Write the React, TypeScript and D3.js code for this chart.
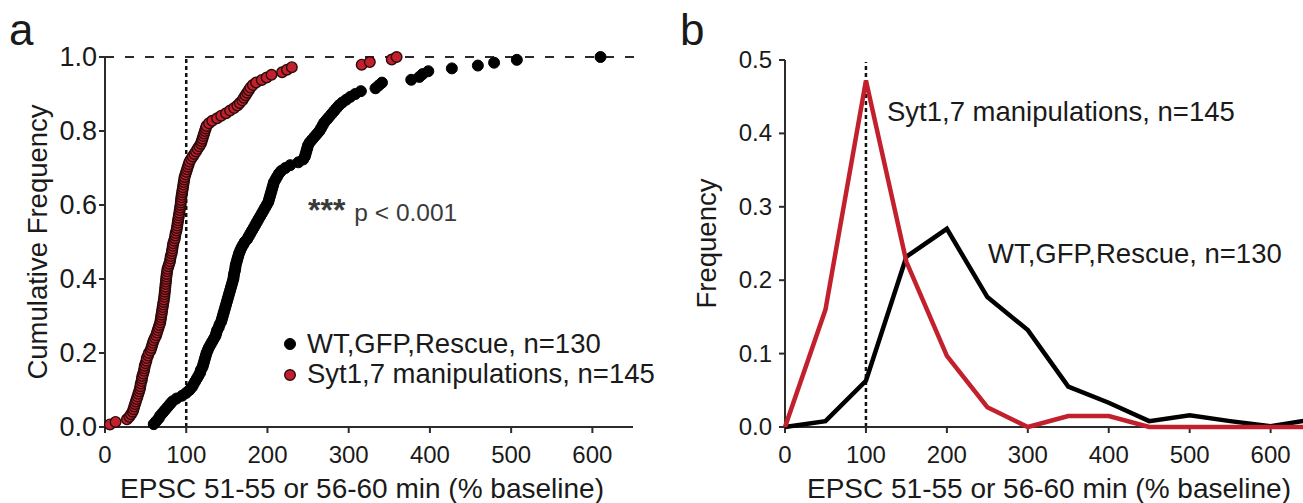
import React from 'react';
import * as d3 from 'd3';

// ---- Panel a: cumulative distributions (sorted values, % baseline) ----
const wtValues = [
  60, 63, 66, 68, 71, 74, 77, 80, 83, 88,
  95, 100, 104, 107, 109, 111, 113, 115, 117, 118,
  120, 121, 122, 123, 124, 125, 126.5, 128, 130, 132,
  134, 136, 137, 138, 140, 141, 143, 144, 145, 146,
  147, 148, 149, 150, 151, 152, 153, 154, 155, 156,
  157, 158, 158.5, 159, 160, 160.5, 161, 162, 163, 164,
  165, 166.5, 168, 170, 172, 175, 177, 179, 181, 183,
  185, 187, 189, 191, 193, 195, 197, 199, 201, 202,
  203, 204, 205, 206, 207, 208, 210, 212, 214, 217,
  222, 228, 238, 244, 246, 247, 248, 249, 250, 252,
  255, 258, 261, 264, 266, 268, 270, 273, 276, 279,
  282, 285, 288, 292, 297, 302, 308, 315, 333, 337,
  341, 377, 387, 391, 398, 427, 459, 479, 507, 610,
];

const sytValues = [
  6, 13, 27, 30, 32, 34, 35, 36, 37, 38,
  39, 40, 41, 42, 43, 43.5, 44, 45, 45.5, 46,
  47, 48, 48.5, 49, 50, 51, 51.5, 53, 54, 56,
  57, 58, 59, 60, 61.5, 63, 64, 65, 66, 67,
  68, 68.5, 69, 69.5, 70, 70.5, 71, 71.5, 72, 72.5,
  73, 73.3, 73.6, 74, 74.3, 74.6, 75, 75.3, 75.6, 76,
  76.5, 77, 78, 79, 80, 80.5, 81, 82, 82.5, 83,
  83.5, 84, 85, 86, 86.5, 87, 88, 88.5, 89, 89.5,
  90, 90.5, 91, 91.5, 92, 92.5, 93, 93.3, 93.6, 94,
  94.5, 95, 95.5, 96, 96.5, 97, 97.5, 98, 99, 100,
  101, 102, 103, 104, 106, 108, 110, 112, 114, 116,
  118, 119, 120, 121, 122, 123, 124, 125, 128, 132,
  138, 143, 149, 154, 159, 163, 166, 169, 171, 173,
  175, 177, 179, 182, 186, 193, 199, 205, 218, 224,
  230, 316, 326, 353, 359,
];

const cdfXTicks = [0, 100, 200, 300, 400, 500, 600];
const cdfYTicks = [0, 0.2, 0.4, 0.6, 0.8, 1.0];

// ---- Panel b: frequency histograms ----
const histBins = [0, 50, 100, 150, 200, 250, 300, 350, 400, 450, 500, 550, 600, 650];
const wtFreq = [0, 0.008, 0.063, 0.232, 0.27, 0.177, 0.132, 0.055, 0.033, 0.008, 0.016, 0.008, 0.001, 0.01];
const sytFreq = [0, 0.16, 0.472, 0.225, 0.097, 0.027, 0, 0.015, 0.015, 0, 0, 0, 0, 0];

const histXTicks = [0, 100, 200, 300, 400, 500, 600];
const histYTicks = [0, 0.1, 0.2, 0.3, 0.4, 0.5];

const labelWT = 'WT,GFP,Rescue, n=130';
const labelSyt = 'Syt1,7 manipulations, n=145';
const xTitle = 'EPSC 51-55 or 56-60 min (% baseline)';

const FONT = '"Liberation Sans", Arial, Helvetica, sans-serif';
const RED = '#c3202e';
const AX = '#2b2b2b';
const TXT = '#1a1a1a';

export default function App() {
  // panel a scales
  const xa = d3.scaleLinear().domain([0, 650]).range([105, 633]);
  const ya = d3.scaleLinear().domain([0, 1]).range([427, 57]);
  // panel b scales
  const xb = d3.scaleLinear().domain([0, 640]).range([785, 1303]);
  const yb = d3.scaleLinear().domain([0, 0.5]).range([427, 60]);

  const wtPts = wtValues.map((v, i) => [xa(v), ya((i + 1) / wtValues.length)]);
  const sytPts = sytValues.map((v, i) => [xa(v), ya((i + 1) / sytValues.length)]);

  const line = d3
    .line<number>()
    .x((_, i) => xb(histBins[i]))
    .y((d) => yb(d));

  return (
    <svg
      width={1303}
      height={503}
      style={{ position: 'absolute', left: 0, top: 0, background: '#fff' }}
      fontFamily={FONT}
    >
      <rect x={0} y={0} width={1303} height={503} fill="#fff" />

      {/* ================= Panel a ================= */}
      <text x={9} y={45} fontSize={44} fill={TXT}>a</text>

      {/* reference lines */}
      <line x1={xa(0)} x2={640} y1={ya(1)} y2={ya(1)} stroke={AX} strokeWidth={2} strokeDasharray="9 11" />
      <line x1={xa(100)} x2={xa(100)} y1={ya(0)} y2={ya(1)} stroke="#111" strokeWidth={2.5} strokeDasharray="4 3" />

      {/* axes */}
      <line x1={xa(0)} x2={xa(650)} y1={ya(0)} y2={ya(0)} stroke={AX} strokeWidth={2} />
      <line x1={xa(0)} x2={xa(0)} y1={ya(0) + 1} y2={ya(1)} stroke={AX} strokeWidth={2} />
      {cdfXTicks.map((t) => (
        <g key={'ax' + t}>
          <line x1={xa(t)} x2={xa(t)} y1={ya(0)} y2={ya(0) + 6} stroke={AX} strokeWidth={2} />
          <text x={xa(t)} y={463} fontSize={24} textAnchor="middle" fill={TXT}>{t}</text>
        </g>
      ))}
      {cdfYTicks.map((t) => (
        <g key={'ay' + t}>
          <line x1={xa(0) - 6} x2={xa(0)} y1={ya(t)} y2={ya(t)} stroke={AX} strokeWidth={2} />
          <text x={97} y={ya(t) + 9} fontSize={27} textAnchor="end" fill={TXT}>{t.toFixed(1)}</text>
        </g>
      ))}
      <text
        transform={`translate(47, ${(ya(0) + ya(1)) / 2}) rotate(-90)`}
        fontSize={27.5}
        textAnchor="middle"
        fill={TXT}
      >
        Cumulative Frequency
      </text>
      <text x={362} y={498} fontSize={28} textAnchor="middle" fill={TXT}>{xTitle}</text>

      {/* data points */}
      {wtPts.map((p, i) => (
        <circle key={'w' + i} cx={p[0]} cy={p[1]} r={5.5} fill="#000" stroke="#000" strokeWidth={1} />
      ))}
      {sytPts.map((p, i) => (
        <circle key={'s' + i} cx={p[0]} cy={p[1]} r={5.3} fill={RED} stroke="#2a0a0a" strokeWidth={1.4} />
      ))}

      {/* p-value */}
      <text x={308} y={221} fill="#3a3a3a">
        <tspan fontSize={32} fontWeight="bold">***</tspan>
        <tspan fontSize={24.5} dx={9}>p &lt; 0.001</tspan>
      </text>

      {/* legend */}
      <circle cx={290} cy={344} r={5.5} fill="#000" stroke="#000" strokeWidth={1} />
      <text x={307} y={353} fontSize={27.5} fill={TXT}>{labelWT}</text>
      <circle cx={290} cy={375} r={5.3} fill={RED} stroke="#2a0a0a" strokeWidth={1.4} />
      <text x={307} y={383} fontSize={27.5} fill={TXT}>{labelSyt}</text>

      {/* ================= Panel b ================= */}
      <text x={680} y={45} fontSize={44} fill={TXT}>b</text>

      <line x1={xb(100)} x2={xb(100)} y1={yb(0)} y2={yb(0.5) + 2} stroke="#111" strokeWidth={2.5} strokeDasharray="4 3" />

      <line x1={xb(0)} x2={1303} y1={yb(0)} y2={yb(0)} stroke={AX} strokeWidth={2} />
      <line x1={xb(0)} x2={xb(0)} y1={yb(0) + 1} y2={yb(0.5)} stroke={AX} strokeWidth={2} />
      {histXTicks.map((t) => (
        <g key={'bx' + t}>
          <line x1={xb(t)} x2={xb(t)} y1={yb(0)} y2={yb(0) + 6} stroke={AX} strokeWidth={2} />
          <text x={xb(t)} y={463} fontSize={24} textAnchor="middle" fill={TXT}>{t}</text>
        </g>
      ))}
      {histYTicks.map((t) => (
        <g key={'by' + t}>
          <line x1={xb(0) - 6} x2={xb(0)} y1={yb(t)} y2={yb(t)} stroke={AX} strokeWidth={2} />
          <text x={772} y={yb(t) + 8} fontSize={24} textAnchor="end" fill={TXT}>{t.toFixed(1)}</text>
        </g>
      ))}
      <text
        transform={`translate(716, ${(yb(0) + yb(0.5)) / 2}) rotate(-90)`}
        fontSize={27.5}
        textAnchor="middle"
        fill={TXT}
      >
        Frequency
      </text>
      <text x={1049} y={498} fontSize={28} textAnchor="middle" fill={TXT}>{xTitle}</text>

      <path d={line(wtFreq) || ''} fill="none" stroke="#000" strokeWidth={4.5} strokeLinejoin="miter" />
      <path d={line(sytFreq) || ''} fill="none" stroke={RED} strokeWidth={4.5} strokeLinejoin="miter" />

      <text x={887} y={121} fontSize={27.5} fill={TXT}>{labelSyt}</text>
      <text x={988} y={263} fontSize={27.5} fill={TXT}>{labelWT}</text>
    </svg>
  );
}
